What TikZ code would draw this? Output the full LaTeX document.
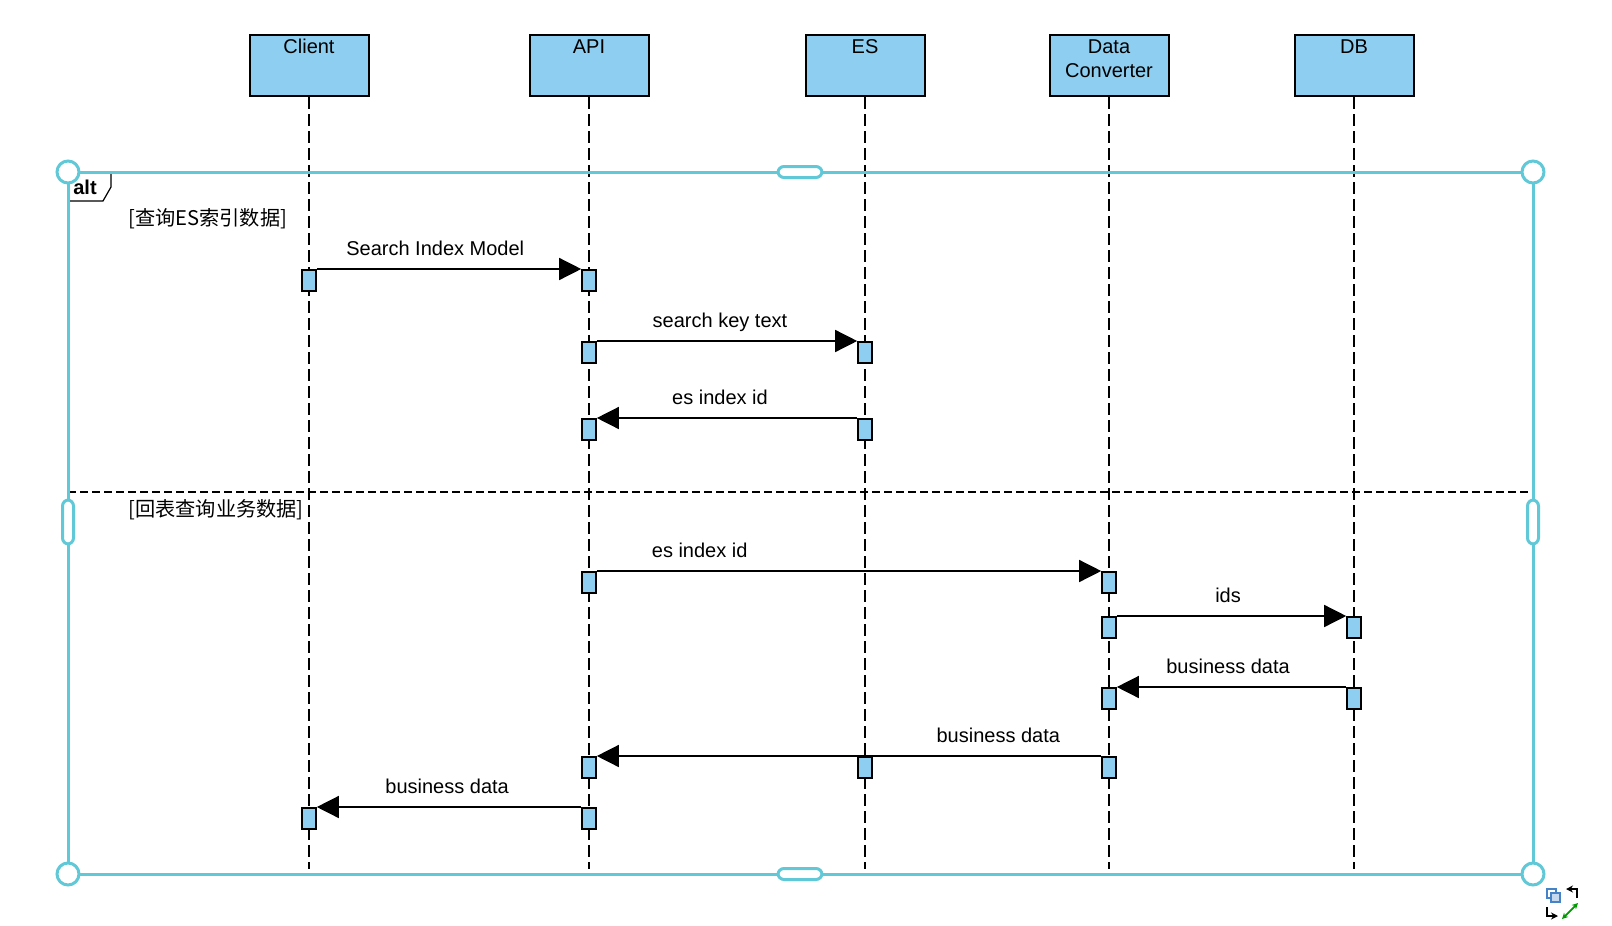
\documentclass[tikz,border=0pt]{standalone}
\usepackage{fontspec}
\setmainfont{Liberation Sans}
\newfontfamily\cjk{Noto Sans CJK SC}
\usetikzlibrary{arrows.meta}

\definecolor{headblue}{RGB}{142,206,240}
\definecolor{selcyan}{RGB}{96,200,214}
\definecolor{iconblue}{RGB}{70,130,200}

\newcommand{\headtext}[1]{\parbox[c][28.5pt][t]{57.5pt}{\centering\strut #1}}

\tikzset{
  head/.style={draw, line width=1pt, fill=headblue, inner sep=1pt},
  act/.style={draw, line width=0.8pt, fill=headblue, minimum width=7pt,
    minimum height=10.5pt, inner sep=0pt, anchor=north},
  lifeline/.style={line width=0.6pt, dash pattern=on 6pt off 2.5pt},
  msg/.style={line width=0.7pt, -{Triangle[length=11pt,width=11pt]}},
  msglabel/.style={anchor=base, yshift=7pt},
  handle/.style={circle, draw=selcyan, fill=white, line width=1.5pt,
    minimum size=11pt, inner sep=0pt},
  pill/.style={draw=selcyan, fill=white, line width=1.5pt, rounded corners=3pt,
    inner sep=0pt},
  guard/.style={anchor=base west, inner sep=0pt, font=\cjk\fontsize{10.1}{12}\selectfont}
}

\begin{document}
\begin{tikzpicture}[x=0.5pt, y=-0.5pt,
  every node/.append style={font=\fontsize{10}{12}\selectfont}]
\useasboundingbox (0,0) rectangle (1612,926);

% Lifelines
\node[head] (client) at (309,65.5) {\headtext{Client}};
\node[head] (api) at (589,65.5) {\headtext{API}};
\node[head] (es) at (865,65.5) {\headtext{ES}};
\node[head] (conv) at (1109,65.5) {\headtext{Data\\Converter}};
\node[head] (db) at (1354,65.5) {\headtext{DB}};
\coordinate (clientend) at (309,869);
\coordinate (apiend) at (589,869);
\coordinate (esend) at (865,869);
\coordinate (convend) at (1109,869);
\coordinate (dbend) at (1354,869);
\draw[lifeline] (client) -- (clientend);
\draw[lifeline] (api) -- (apiend);
\draw[lifeline] (es) -- (esend);
\draw[lifeline] (conv) -- (convend);
\draw[lifeline] (db) -- (dbend);

% alt frame
\draw[line width=0.6pt, fill=white] (68,172) -- (111,172) -- (111,187) -- (103,201) -- (68,201);
\node[anchor=base, inner sep=0pt, font=\bfseries\fontsize{10}{12}\selectfont] (alt) at (85,194) {alt};
\draw[line width=0.7pt, dash pattern=on 4pt off 2pt] (68,492) -- (1533,492);
\draw[line width=0.6pt] (68,173.5) -- (1533,173.5);
\draw[line width=0.6pt] (68,875.5) -- (1533,875.5);
\draw[selcyan, line width=1.5pt] (68,172) rectangle (1533,874);
\node[handle] (h1) at (68,172) {};
\node[handle] (h2) at (1533,172) {};
\node[handle] (h3) at (68,874) {};
\node[handle] (h4) at (1533,874) {};
\node[pill, minimum width=22pt, minimum height=5.5pt] (p1) at (800,172) {};
\node[pill, minimum width=22pt, minimum height=5.5pt] (p2) at (800,874) {};
\node[pill, minimum width=5.5pt, minimum height=22pt] (p3) at (68,522) {};
\node[pill, minimum width=5.5pt, minimum height=22pt] (p4) at (1533,522) {};

% Guards
\node[guard] (g1) at (128,225) {[查询ES索引数据]};
\node[guard] (g2) at (128,516) {[回表查询业务数据]};

% Activations
\node[act] (c1) at (309,269) {};
\node[act] (a1) at (589,269) {};
\node[act] (a2) at (589,341) {};
\node[act] (e1) at (865,341) {};
\node[act] (e2) at (865,418) {};
\node[act] (a3) at (589,418) {};
\node[act] (a4) at (589,571) {};
\node[act] (v1) at (1109,571) {};
\node[act] (v2) at (1109,616) {};
\node[act] (d1) at (1354,616) {};
\node[act] (d2) at (1354,687) {};
\node[act] (v3) at (1109,687) {};
\node[act] (v4) at (1109,756) {};
\node[act] (a5) at (589,756) {};
\node[act] (a6) at (589,807) {};
\node[act] (c2) at (309,807) {};

% Messages
\draw[msg] (c1.north east) -- node[msglabel, pos=0.448] (l1) {Search Index Model} (a1.north west);
\draw[msg] (a2.north east) -- node[msglabel, pos=0.473] (l2) {search key text} (e1.north west);
\draw[msg] (e2.north west) -- node[msglabel, pos=0.527] (l3) {es index id} (a3.north east);
\draw[msg] (a4.north east) -- node[msglabel, pos=0.204] (l4) {es index id} (v1.north west);
\draw[msg] (v2.north east) -- node[msglabel, pos=0.485] (l5) {ids} (d1.north west);
\draw[msg] (d2.north west) -- node[msglabel, pos=0.515] (l6) {business data} (v3.north east);
\draw[msg] (v4.north west) -- node[msglabel, pos=0.204] (l7) {business data} (a5.north east);
\draw[msg] (a6.north west) -- node[msglabel, pos=0.507] (l8) {business data} (c2.north east);
\node[act] (e3) at (865,756) {};

% Corner icon
\draw[iconblue, line width=0.6pt] (1547,889) rectangle (1556,898);
\draw[iconblue, line width=0.6pt, fill=iconblue!30] (1551,893) rectangle (1560,902);
\draw[line width=0.7pt, -{Stealth[length=3.5pt,width=3.5pt]}] (1577,898) -- (1577,889) -- (1566,889);
\draw[line width=0.7pt, -{Stealth[length=3.5pt,width=3.5pt]}] (1547,907) -- (1547,916) -- (1558,916);
\draw[green!60!black, line width=0.9pt, {Stealth[length=3pt,width=3pt]}-{Stealth[length=3pt,width=3pt]}] (1562,919) -- (1578,903);
\end{tikzpicture}
\end{document}
